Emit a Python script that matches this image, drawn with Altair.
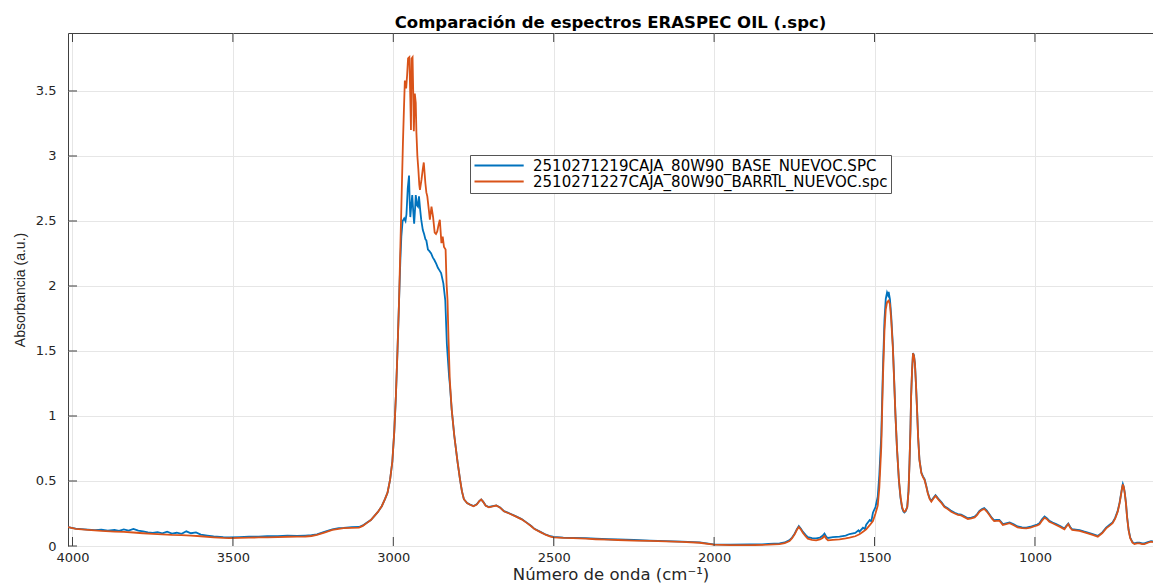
import altair as alt
import pandas as pd

TITLE = "Comparación de espectros ERASPEC OIL (.spc)"
X_TITLE = "Número de onda (cm⁻¹)"
Y_TITLE = "Absorbancia (a.u.)"
SERIES = ["2510271219CAJA_80W90_BASE_NUEVOC.SPC", "2510271227CAJA_80W90_BARRIL_NUEVOC.spc"]
COLORS = ["#0072BD", "#D95319"]
X_TICKS = [4000, 3500, 3000, 2500, 2000, 1500, 1000]
Y_TICKS = [0, 0.5, 1, 1.5, 2, 2.5, 3, 3.5]
X_DOMAIN = [632, 4014]
Y_DOMAIN = [0, 3.946]

# (wavenumber, absorbance) – BASE (blue)
BASE = [
    (4014, 0.145), (3990, 0.133), (3952, 0.126), (3930, 0.122), (3910, 0.125), (3890, 0.118),
    (3869, 0.124), (3855, 0.117), (3840, 0.128), (3825, 0.119), (3810, 0.131), (3795, 0.118),
    (3780, 0.112), (3765, 0.104), (3750, 0.10), (3735, 0.106), (3720, 0.097), (3705, 0.11),
    (3690, 0.096), (3675, 0.102), (3660, 0.094), (3645, 0.113), (3631, 0.098), (3615, 0.104),
    (3600, 0.088), (3580, 0.08), (3560, 0.073), (3530, 0.068), (3512, 0.066), (3480, 0.068),
    (3450, 0.071), (3420, 0.072), (3393, 0.075), (3360, 0.076), (3330, 0.079), (3300, 0.077),
    (3274, 0.08), (3255, 0.083), (3238, 0.09), (3215, 0.108), (3190, 0.128), (3170, 0.138),
    (3155, 0.14), (3130, 0.145), (3107, 0.146), (3095, 0.158), (3083, 0.178), (3070, 0.2),
    (3060, 0.228), (3048, 0.262), (3036, 0.306), (3026, 0.36), (3018, 0.41), (3010, 0.51),
    (3003, 0.65), (2997, 0.88), (2992, 1.15), (2987, 1.5), (2982, 1.89), (2978, 2.2),
    (2975, 2.38), (2971, 2.5), (2966, 2.52), (2962, 2.5), (2959, 2.55), (2955, 2.75),
    (2951, 2.85), (2949, 2.65), (2947, 2.53), (2944, 2.62), (2941, 2.70), (2938, 2.58),
    (2935, 2.48), (2932, 2.6), (2930, 2.70), (2926, 2.62), (2923, 2.61), (2920, 2.69),
    (2916, 2.58), (2913, 2.51), (2908, 2.43), (2904, 2.40), (2900, 2.36), (2897, 2.35),
    (2892, 2.28), (2888, 2.27), (2882, 2.25), (2877, 2.22), (2872, 2.2), (2866, 2.17),
    (2861, 2.14), (2856, 2.12), (2851, 2.1), (2844, 2.02), (2838, 1.89), (2833, 1.55),
    (2826, 1.3), (2824, 1.25), (2818, 1.05), (2810, 0.85), (2800, 0.65), (2792, 0.51),
    (2786, 0.42), (2780, 0.36), (2770, 0.33), (2762, 0.32), (2750, 0.307), (2740, 0.32),
    (2732, 0.346), (2726, 0.358), (2720, 0.341), (2712, 0.311), (2702, 0.3), (2690, 0.306),
    (2679, 0.312), (2667, 0.296), (2655, 0.268), (2637, 0.25), (2619, 0.23), (2600, 0.207),
    (2583, 0.178), (2570, 0.154), (2560, 0.132), (2540, 0.107), (2524, 0.087), (2510, 0.075),
    (2500, 0.07), (2470, 0.065), (2440, 0.063), (2400, 0.06), (2369, 0.056), (2330, 0.052),
    (2300, 0.05), (2250, 0.046), (2200, 0.042), (2150, 0.038), (2100, 0.034), (2045, 0.028),
    (2002, 0.012), (1950, 0.01), (1889, 0.012), (1850, 0.013), (1830, 0.016), (1796, 0.02),
    (1780, 0.027), (1765, 0.045), (1757, 0.065), (1749, 0.095), (1742, 0.13), (1736, 0.154),
    (1730, 0.135), (1723, 0.108), (1715, 0.085), (1708, 0.068), (1695, 0.06), (1682, 0.058),
    (1670, 0.065), (1662, 0.078), (1656, 0.095), (1650, 0.07), (1645, 0.062), (1630, 0.068),
    (1609, 0.072), (1590, 0.08), (1578, 0.092), (1560, 0.1), (1550, 0.12), (1547, 0.11),
    (1536, 0.14), (1530, 0.13), (1526, 0.164), (1515, 0.2), (1510, 0.19), (1505, 0.256),
    (1497, 0.3), (1490, 0.38), (1485, 0.55), (1479, 0.85), (1474, 1.35), (1469, 1.74),
    (1465, 1.9), (1461, 1.95), (1458, 1.93), (1456, 1.955), (1452, 1.9), (1448, 1.77),
    (1443, 1.55), (1439, 1.29), (1435, 1.02), (1430, 0.75), (1424, 0.5), (1419, 0.37),
    (1414, 0.29), (1410, 0.265), (1407, 0.258), (1403, 0.268), (1398, 0.3), (1394, 0.43),
    (1391, 0.64), (1388, 0.91), (1386, 1.15), (1383, 1.35), (1380, 1.485), (1377, 1.465),
    (1374, 1.405), (1371, 1.255), (1367, 1.025), (1364, 0.835), (1360, 0.665), (1354, 0.565),
    (1349, 0.536), (1344, 0.514), (1339, 0.466), (1334, 0.411), (1328, 0.366), (1323, 0.347),
    (1318, 0.366), (1310, 0.391), (1305, 0.376), (1300, 0.36), (1291, 0.336), (1282, 0.306),
    (1272, 0.291), (1261, 0.27), (1250, 0.256), (1240, 0.246), (1230, 0.241), (1220, 0.228),
    (1209, 0.214), (1198, 0.218), (1188, 0.226), (1180, 0.246), (1173, 0.27), (1165, 0.284),
    (1158, 0.292), (1150, 0.272), (1142, 0.244), (1134, 0.216), (1127, 0.198), (1119, 0.2),
    (1111, 0.201), (1105, 0.184), (1100, 0.168), (1090, 0.174), (1079, 0.181), (1066, 0.166),
    (1054, 0.15), (1040, 0.144), (1027, 0.142), (1014, 0.148), (1001, 0.158), (993, 0.165),
    (986, 0.175), (978, 0.205), (970, 0.228), (962, 0.213), (955, 0.194), (945, 0.181),
    (934, 0.168), (920, 0.151), (908, 0.134), (902, 0.155), (896, 0.173), (890, 0.146),
    (884, 0.129), (873, 0.126), (861, 0.122), (848, 0.112), (835, 0.103), (820, 0.091),
    (804, 0.078), (790, 0.105), (778, 0.142), (768, 0.162), (758, 0.182), (750, 0.216),
    (742, 0.27), (736, 0.335), (731, 0.41), (728, 0.455), (726, 0.478), (723, 0.455),
    (720, 0.41), (716, 0.325), (713, 0.23), (708, 0.125), (703, 0.065), (696, 0.03),
    (690, 0.02), (682, 0.025), (674, 0.025), (666, 0.02), (659, 0.02), (648, 0.03),
    (638, 0.038), (632, 0.035),
]

# (wavenumber, absorbance) – BARRIL (orange)
BARRIL = [
    (4014, 0.145), (3990, 0.132), (3952, 0.124), (3910, 0.116), (3869, 0.111), (3840, 0.108),
    (3810, 0.104), (3780, 0.098), (3750, 0.093), (3720, 0.089), (3690, 0.085), (3660, 0.083),
    (3631, 0.080), (3600, 0.075), (3560, 0.067), (3530, 0.062), (3512, 0.060), (3480, 0.062),
    (3450, 0.064), (3420, 0.066), (3393, 0.067), (3360, 0.069), (3330, 0.071), (3300, 0.072),
    (3274, 0.073), (3255, 0.077), (3238, 0.085), (3215, 0.103), (3190, 0.124), (3170, 0.132),
    (3155, 0.137), (3130, 0.14), (3107, 0.142), (3095, 0.155), (3083, 0.176), (3070, 0.2),
    (3060, 0.228), (3048, 0.262), (3036, 0.306), (3026, 0.36), (3018, 0.41), (3010, 0.51),
    (3003, 0.65), (2997, 0.88), (2992, 1.15), (2987, 1.5), (2982, 1.89), (2978, 2.3),
    (2975, 2.6), (2970, 3.1), (2967, 3.35), (2964, 3.58), (2960, 3.52), (2957, 3.62),
    (2954, 3.75), (2950, 3.76), (2947, 3.45), (2945, 3.2), (2943, 3.75), (2940, 3.76),
    (2938, 3.5), (2936, 3.19), (2933, 3.48), (2930, 3.41), (2928, 3.18), (2925, 3.0),
    (2922, 2.9), (2919, 2.78), (2917, 2.74), (2912, 2.82), (2908, 2.9), (2905, 2.95),
    (2900, 2.79), (2897, 2.72), (2894, 2.69), (2889, 2.58), (2886, 2.51), (2881, 2.61),
    (2876, 2.53), (2871, 2.41), (2867, 2.40), (2863, 2.42), (2859, 2.47), (2855, 2.51),
    (2850, 2.33), (2846, 2.38), (2842, 2.30), (2837, 2.28), (2834, 2.02), (2831, 1.89),
    (2828, 1.6), (2824, 1.28), (2818, 1.05), (2810, 0.85), (2800, 0.65), (2792, 0.51),
    (2786, 0.42), (2780, 0.36), (2770, 0.33), (2762, 0.319), (2750, 0.306), (2740, 0.318),
    (2732, 0.345), (2726, 0.357), (2720, 0.34), (2712, 0.31), (2702, 0.298), (2690, 0.305),
    (2679, 0.311), (2667, 0.295), (2655, 0.267), (2637, 0.248), (2619, 0.228), (2600, 0.205),
    (2583, 0.176), (2570, 0.152), (2560, 0.13), (2540, 0.105), (2524, 0.085), (2510, 0.072),
    (2500, 0.067), (2470, 0.062), (2440, 0.06), (2400, 0.056), (2369, 0.052), (2330, 0.049),
    (2300, 0.046), (2250, 0.042), (2200, 0.039), (2150, 0.035), (2100, 0.031), (2045, 0.025),
    (2002, 0.01), (1950, 0.007), (1889, 0.006), (1830, 0.01), (1796, 0.015), (1780, 0.022),
    (1765, 0.038), (1757, 0.06), (1749, 0.09), (1742, 0.125), (1736, 0.146), (1730, 0.128),
    (1723, 0.10), (1715, 0.075), (1708, 0.056), (1695, 0.047), (1682, 0.044), (1670, 0.05),
    (1662, 0.062), (1656, 0.077), (1650, 0.055), (1645, 0.044), (1630, 0.047), (1609, 0.051),
    (1590, 0.058), (1578, 0.064), (1560, 0.075), (1547, 0.09), (1536, 0.11), (1526, 0.128),
    (1515, 0.16), (1505, 0.192), (1497, 0.25), (1490, 0.31), (1485, 0.45), (1479, 0.764),
    (1474, 1.277), (1469, 1.66), (1465, 1.82), (1461, 1.875), (1456, 1.887), (1452, 1.86),
    (1448, 1.74), (1443, 1.53), (1439, 1.28), (1435, 1.02), (1430, 0.75), (1424, 0.51),
    (1419, 0.38), (1414, 0.30), (1410, 0.272), (1407, 0.264), (1403, 0.272), (1398, 0.30),
    (1394, 0.42), (1391, 0.636), (1388, 0.9), (1386, 1.148), (1383, 1.35), (1380, 1.482),
    (1377, 1.46), (1374, 1.4), (1371, 1.25), (1367, 1.02), (1364, 0.83), (1360, 0.66),
    (1354, 0.559), (1349, 0.53), (1344, 0.508), (1339, 0.46), (1334, 0.405), (1328, 0.36),
    (1323, 0.341), (1318, 0.36), (1310, 0.385), (1305, 0.37), (1300, 0.354), (1291, 0.33),
    (1282, 0.30), (1272, 0.285), (1261, 0.264), (1250, 0.25), (1240, 0.24), (1230, 0.235),
    (1220, 0.222), (1209, 0.208), (1198, 0.212), (1188, 0.22), (1180, 0.24), (1173, 0.264),
    (1165, 0.278), (1158, 0.285), (1150, 0.265), (1142, 0.238), (1134, 0.21), (1127, 0.192),
    (1119, 0.194), (1111, 0.195), (1105, 0.178), (1100, 0.162), (1090, 0.168), (1079, 0.175),
    (1066, 0.16), (1054, 0.144), (1040, 0.138), (1027, 0.136), (1014, 0.142), (1001, 0.152),
    (993, 0.158), (986, 0.167), (978, 0.195), (970, 0.218), (962, 0.205), (955, 0.187),
    (945, 0.175), (934, 0.162), (920, 0.145), (908, 0.128), (902, 0.15), (896, 0.168),
    (890, 0.14), (884, 0.123), (873, 0.12), (861, 0.116), (848, 0.106), (835, 0.097),
    (820, 0.085), (804, 0.072), (790, 0.1), (778, 0.136), (768, 0.155), (758, 0.175),
    (750, 0.21), (742, 0.264), (736, 0.33), (731, 0.405), (728, 0.45), (726, 0.474),
    (723, 0.45), (720, 0.405), (716, 0.32), (713, 0.225), (708, 0.12), (703, 0.06),
    (696, 0.025), (690, 0.015), (682, 0.02), (674, 0.02), (666, 0.014), (659, 0.015),
    (648, 0.025), (638, 0.033), (632, 0.03),
]

rows = []
for name, pts in zip(SERIES, [BASE, BARRIL]):
    for wn, a in pts:
        rows.append({"wn": wn, "abs": a, "serie": name})
df = pd.DataFrame(rows)

W, H = 1085, 513
xscale = alt.Scale(domain=X_DOMAIN, reverse=True, nice=False, zero=False)
yscale = alt.Scale(domain=Y_DOMAIN, nice=False, zero=True)
x_axis = alt.Axis(title=X_TITLE, values=X_TICKS, format="d", grid=True)
y_axis = alt.Axis(title=Y_TITLE, values=Y_TICKS, format="~g", grid=True)

lines = alt.Chart(df).mark_line(strokeWidth=1.8, clip=True).encode(
    x=alt.X("wn:Q", scale=xscale, axis=x_axis),
    y=alt.Y("abs:Q", scale=yscale, axis=y_axis),
    color=alt.Color(
        "serie:N",
        scale=alt.Scale(domain=SERIES, range=COLORS),
        legend=alt.Legend(
            orient="none", legendX=402, legendY=122, title=None,
            fillColor="white", strokeColor="#555555", padding=3, rowPadding=0,
            symbolType="M-1,0H7.2", symbolSize=144, symbolStrokeWidth=1.8,
            symbolFillColor="transparent",
            labelOffset=45, labelFont="DejaVu Sans", labelFontSize=15, labelLimit=0,
            labelColor="#000000", cornerRadius=0,
        ),
    ),
    order=alt.Order("wn:Q"),
)

xt = pd.DataFrame({"wn": X_TICKS})
yt = pd.DataFrame({"abs": Y_TICKS})
tick_col = "#404040"
bottom_ticks = alt.Chart(xt).mark_rule(color=tick_col, strokeWidth=1).encode(
    x=alt.X("wn:Q", scale=xscale, axis=x_axis), y=alt.value(H), y2=alt.value(H - 9))
top_ticks = alt.Chart(xt).mark_rule(color=tick_col, strokeWidth=1).encode(
    x=alt.X("wn:Q", scale=xscale, axis=x_axis), y=alt.value(0), y2=alt.value(9))
left_ticks = alt.Chart(yt).mark_rule(color=tick_col, strokeWidth=1).encode(
    y=alt.Y("abs:Q", scale=yscale, axis=y_axis), x=alt.value(0), x2=alt.value(9))

chart = alt.layer(lines, bottom_ticks, top_ticks, left_ticks).properties(
    width=W, height=H,
    padding={"left": 68, "top": 33, "right": 0, "bottom": 40},
    autosize=alt.AutoSizeParams(type="none"),
    title=alt.TitleParams(text=TITLE, font="DejaVu Sans", fontSize=16.5, fontWeight="bold",
                          color="#000000", anchor="middle", offset=1),
    background="white",
).configure_view(stroke=tick_col, strokeWidth=1).configure_axis(
    labelFont="DejaVu Sans", labelFontSize=13, labelColor="#262626",
    titleColor="#262626", titleFontWeight="normal",
    ticks=False, domain=False, gridColor="#e6e6e6", gridWidth=1,
).configure_axisX(
    labelPadding=5, titleFont="DejaVu Sans", titleFontSize=16.5, titlePadding=2,
).configure_axisY(
    labelPadding=12, titleFont="Liberation Sans", titleFontSize=14, titlePadding=8,
)

chart.save("out.html", embed_options={"renderer": "svg", "actions": False})
